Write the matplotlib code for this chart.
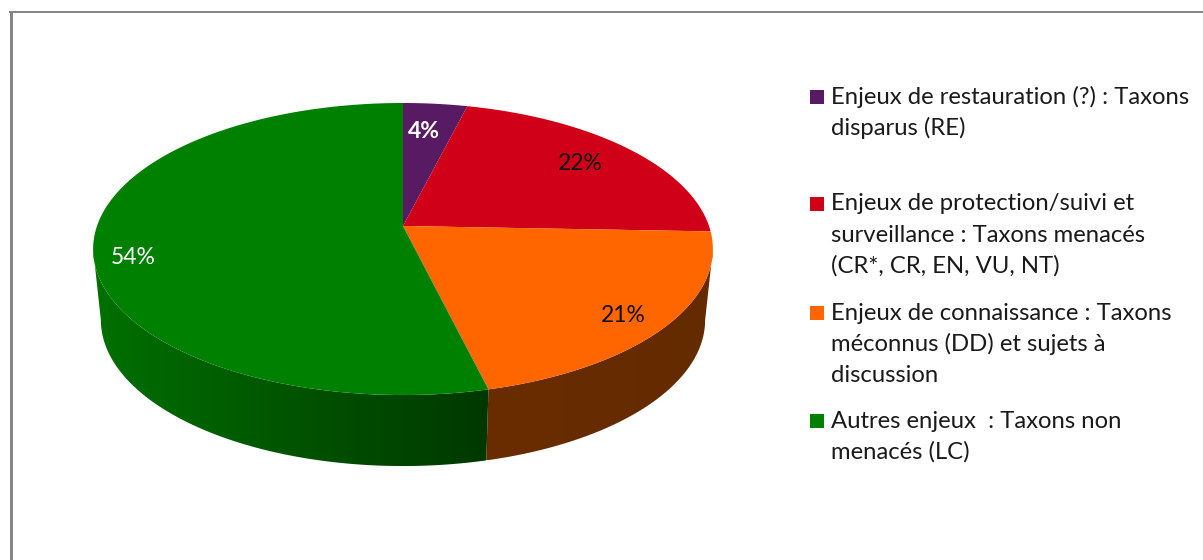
import numpy as np
import matplotlib
matplotlib.use('Agg')
import matplotlib.pyplot as plt
from matplotlib.colors import LinearSegmentedColormap
from matplotlib.patches import Polygon

# shares, clockwise from 12 o'clock
categories = [
    ['Enjeux de restauration (?) : Taxons', 'disparus (RE)'],
    ['Enjeux de protection/suivi et', 'surveillance : Taxons menacés', '(CR*, CR, EN, VU, NT)'],
    ['Enjeux de connaissance : Taxons', 'méconnus (DD) et sujets à', 'discussion'],
    ['Autres enjeux  : Taxons non', 'menacés (LC)'],
]
values = [3.9, 21.7, 20.6, 53.8]
colors = ['#581a62', '#d00018', '#ff6600', '#008000']
# side wall shading, left to right
wall_shades = [('#3a1040', '#3a1040'), ('#7f000f', '#7f000f'),
               ('#6a2d00', '#642a00'), ('#007000', '#003800')]
label_colors = ['white', '#111111', '#111111', 'white']
label_weights = ['bold', 'normal', 'normal', 'normal']
label_pos = [(424, 131), (580, 164), (623, 316), (133, 258)]
legend_y = [97, 204, 313, 421]

W, H = 1203, 560
cx, cy = 403, 226
depth = 71
wall_shrink = 0.975
A, B, k = 142.4, 306.0, 0.1576


def project(theta):
    # tilted disc, nearer side looks bigger (angle clockwise from the top)
    x, y = np.sin(theta), np.cos(theta)
    d = 1 + k * y
    return cx + B * x / d, cy - A * y / d


fig = plt.figure(figsize=(W / 100, H / 100), dpi=100)
ax = fig.add_axes([0, 0, 1, 1])
ax.set_xlim(0, W)
ax.set_ylim(H, 0)
ax.axis('off')

# frame, only left and top are visible
ax.plot([10.5, 10.5], [11, H], color='#868686', lw=2.16, solid_capstyle='butt')
ax.plot([9, W], [12, 12], color='#868686', lw=1.44, solid_capstyle='butt')

edges = np.cumsum([0] + values) / sum(values) * 2 * np.pi

# side wall: one shaded image per wedge, clipped to the part facing us
for i in range(4):
    ts = np.linspace(edges[i], edges[i + 1], 300)
    ts = ts[np.cos(ts) <= -k]
    if len(ts) < 2:
        continue
    px, py = project(ts)
    bx = cx + (px - cx) * wall_shrink
    by = py + depth
    poly = Polygon(np.c_[np.r_[px, bx[::-1]], np.r_[py, by[::-1]]], closed=True,
                   transform=ax.transData, facecolor='none', edgecolor='none')
    ax.add_patch(poly)
    cmap = LinearSegmentedColormap.from_list('wall', wall_shades[i])
    im = ax.imshow(np.linspace(0, 1, 256)[None, :], cmap=cmap, aspect='auto', zorder=2,
                   extent=[min(px.min(), bx.min()), max(px.max(), bx.max()), py.max() + depth, py.min()])
    im.set_clip_path(poly)
ax.set_xlim(0, W)
ax.set_ylim(H, 0)

# top of the pie
for i in range(4):
    ts = np.linspace(edges[i], edges[i + 1], 300)
    px, py = project(ts)
    ax.fill(np.r_[cx, px], np.r_[cy, py], color=colors[i], lw=0, zorder=3)

for v, c, w, (lx, ly) in zip(values, label_colors, label_weights, label_pos):
    ax.text(lx, ly, '%d%%' % round(v), color=c, fontsize=16.5, family='Lato', weight=w,
            ha='center', va='center', zorder=4)

# legend
for lines, c, y in zip(categories, colors, legend_y):
    ax.fill([810, 824, 824, 810], [y - 7, y - 7, y + 7, y + 7], color=c, lw=0)
    for j, line in enumerate(lines):
        ax.text(831, y + 31 * j, line, fontsize=17.2, family='Lato', color='#1a1a1a',
                ha='left', va='center')

fig.savefig('out.png', dpi=100)
